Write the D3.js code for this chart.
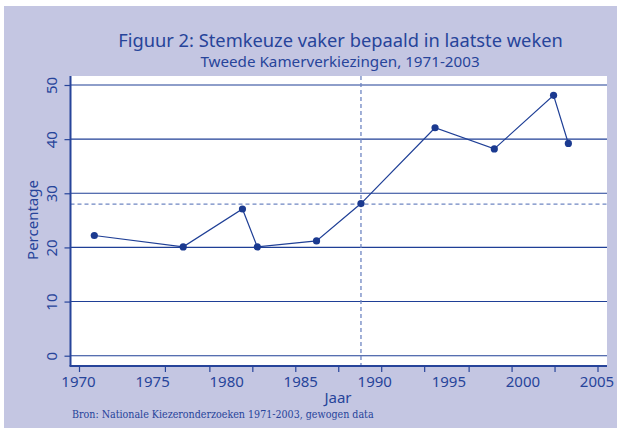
<!DOCTYPE html>
<html>
<head>
<meta charset="utf-8">
<script src="https://cdn.jsdelivr.net/npm/d3@7"></script>
<style>
  body { margin: 0; background: #fff; }
  text { font-family: "Noto Sans", sans-serif; }
  text.note { font-family: "DejaVu Serif", serif; font-stretch: condensed; }
</style>
</head>
<body>
<div id="chart"></div>
<script>
// election years and share of voters who decided in the last weeks
const years = [1971, 1977, 1981, 1982, 1986, 1989, 1994, 1998, 2002, 2003];
const percentages = [22.2, 20.1, 27.1, 20.1, 21.2, 28.1, 42.1, 38.2, 48.1, 39.2];

const yTicks = [0, 10, 20, 30, 40, 50];
const xLabels = [1970, 1975, 1980, 1985, 1990, 1995, 2000, 2005];
// tick marks on the x axis do not sit under the labels in the original
const xTickMarks = [1970, 1975.8, 1978.8, 1981.7, 1984.6, 1987.5, 1990.4, 1993.3, 1996.3, 1999.2, 2002.1, 2005];
const refYear = 1989;
const refValue = 28;

const width = 620, height = 434;
const plot = { left: 70.5, right: 607, top: 76, bottom: 366 };
const blue = '#27449a';
const lineBlue = '#1f3f96';
const dashBlue = '#6f86c2';

const svg = d3.select('#chart').append('svg')
    .attr('width', width)
    .attr('height', height);

svg.append('rect')
    .attr('x', 4).attr('y', 6)
    .attr('width', 613).attr('height', 422)
    .attr('fill', '#c4c6e2');

svg.append('rect')
    .attr('x', plot.left).attr('y', plot.top)
    .attr('width', plot.right - plot.left).attr('height', plot.bottom - plot.top)
    .attr('fill', '#fff');

const x = d3.scaleLinear().domain([1970, 2005]).range([79.5, 598]);
const y = d3.scaleLinear().domain([0, 50]).range([355.7, 85]);

// horizontal grid
svg.append('g')
    .selectAll('line')
    .data(yTicks)
    .enter()
    .append('line')
    .attr('x1', plot.left).attr('x2', plot.right)
    .attr('y1', d => y(d)).attr('y2', d => y(d))
    .attr('stroke', lineBlue)
    .attr('stroke-width', 1.1);

// reference lines through the 1989 point
svg.append('line')
    .attr('x1', plot.left).attr('x2', plot.right)
    .attr('y1', y(refValue)).attr('y2', y(refValue))
    .attr('stroke', dashBlue).attr('stroke-width', 1.3)
    .attr('stroke-dasharray', '4,3');

svg.append('line')
    .attr('x1', x(refYear)).attr('x2', x(refYear))
    .attr('y1', plot.top).attr('y2', plot.bottom)
    .attr('stroke', dashBlue).attr('stroke-width', 1.3)
    .attr('stroke-dasharray', '4,3');

// y axis
const yAxis = svg.append('g')
    .attr('transform', `translate(${plot.left},0)`)
    .call(d3.axisLeft(y).tickValues(yTicks).tickSize(6).tickSizeOuter(0));
yAxis.select('.domain').attr('d', `M0,${plot.top}V${plot.bottom}`).attr('stroke', blue).attr('stroke-width', 2);
yAxis.selectAll('.tick line').attr('stroke', blue).attr('stroke-width', 1.2);
yAxis.selectAll('.tick text')
    .attr('fill', blue)
    .attr('font-size', 15)
    .attr('text-anchor', 'middle')
    .attr('transform', 'translate(-19,0) rotate(-90)')
    .attr('x', 0).attr('y', 0)
    .attr('dy', '0.35em');

// x axis: labels and separate tick marks
const xAxisY = plot.bottom;
svg.append('line')
    .attr('x1', plot.left - 1).attr('x2', plot.right)
    .attr('y1', xAxisY).attr('y2', xAxisY)
    .attr('stroke', blue).attr('stroke-width', 2);

svg.append('g')
    .selectAll('line')
    .data(xTickMarks)
    .enter()
    .append('line')
    .attr('x1', d => x(d)).attr('x2', d => x(d))
    .attr('y1', xAxisY).attr('y2', xAxisY + 6)
    .attr('stroke', blue).attr('stroke-width', 1.2);

svg.append('g')
    .selectAll('text')
    .data(xLabels)
    .enter()
    .append('text')
    .attr('x', d => x(d) - 1)
    .attr('y', 387)
    .attr('text-anchor', 'middle')
    .attr('fill', blue)
    .attr('font-size', 15)
    .text(d => d);

// data line and points
const pts = years.map((yr, i) => ({ year: yr, value: percentages[i] }));
const line = d3.line().x(d => x(d.year)).y(d => y(d.value));

svg.append('path')
    .datum(pts)
    .attr('fill', 'none')
    .attr('stroke', lineBlue)
    .attr('stroke-width', 1.2)
    .attr('d', line);

svg.append('g')
    .selectAll('circle')
    .data(pts)
    .enter()
    .append('circle')
    .attr('cx', d => x(d.year))
    .attr('cy', d => y(d.value))
    .attr('r', 3.6)
    .attr('fill', '#1b3a90');

// titles
svg.append('text')
    .attr('x', 340.5).attr('y', 47)
    .attr('text-anchor', 'middle')
    .attr('fill', blue)
    .attr('font-size', 18.3)
    .text('Figuur 2: Stemkeuze vaker bepaald in laatste weken');

svg.append('text')
    .attr('x', 340).attr('y', 67)
    .attr('text-anchor', 'middle')
    .attr('fill', blue)
    .attr('font-size', 15.2)
    .text('Tweede Kamerverkiezingen, 1971-2003');

svg.append('text')
    .attr('transform', 'translate(38,220) rotate(-90)')
    .attr('text-anchor', 'middle')
    .attr('fill', blue)
    .attr('font-size', 15)
    .text('Percentage');

svg.append('text')
    .attr('x', 338).attr('y', 403)
    .attr('text-anchor', 'middle')
    .attr('fill', blue)
    .attr('font-size', 15)
    .text('Jaar');

svg.append('text')
    .attr('class', 'note')
    .attr('x', 72).attr('y', 418)
    .attr('fill', blue)
    .attr('font-size', 10.6)
    .text('Bron: Nationale Kiezeronderzoeken 1971-2003, gewogen data');
</script>
</body>
</html>
